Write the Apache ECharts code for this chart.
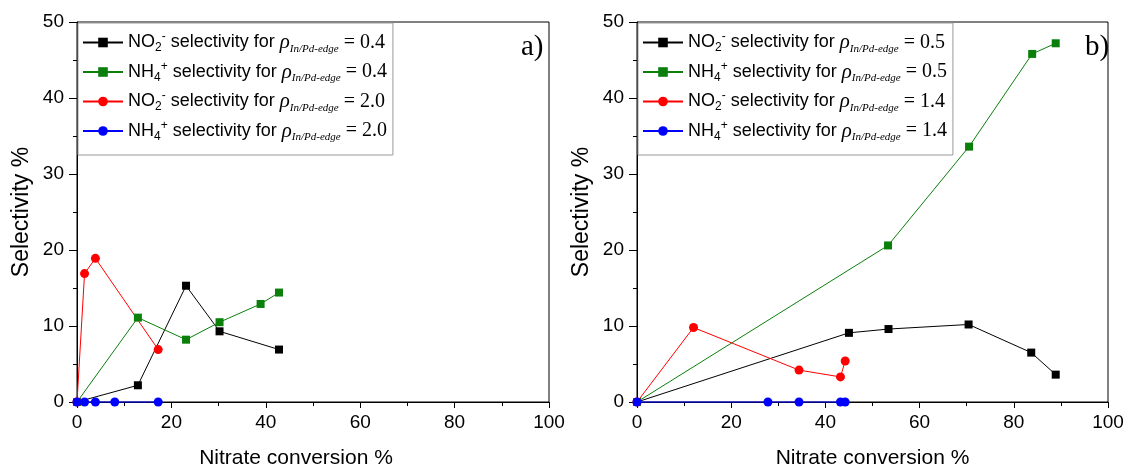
<!DOCTYPE html>
<html>
<head>
<meta charset="utf-8">
<script src="https://cdn.jsdelivr.net/npm/echarts@6/dist/echarts.min.js"></script>
<style>
html,body{margin:0;padding:0;background:#fff;}
#chart{width:1125px;height:468px;}
</style>
</head>
<body>
<div id="chart"></div>
<script>
// ---- Data (x = nitrate conversion %, y = selectivity %) ----
const aNO2low  = [[0,0],[12.9,2.2],[23.1,15.3],[30.2,9.3],[42.8,6.9]];
const aNH4low  = [[0,0],[12.9,11.1],[23.1,8.2],[30.2,10.5],[38.9,12.9],[42.8,14.4]];
const aNO2high = [[0,0],[1.6,16.9],[3.9,18.9],[17.2,6.9]];
const aNH4high = [[0,0],[1.6,0],[3.9,0],[8.0,0],[17.2,0]];

const bNO2low  = [[0,0],[45.0,9.1],[53.4,9.6],[70.4,10.2],[83.7,6.5],[88.9,3.6]];
const bNH4low  = [[0,0],[53.3,20.6],[70.5,33.6],[83.9,45.8],[88.9,47.2]];
const bNO2high = [[0,0],[12.0,9.8],[34.4,4.2],[43.2,3.3],[44.2,5.4]];
const bNH4high = [[0,0],[27.8,0],[34.4,0],[43.2,0],[44.2,0]];

const ratiosA = ['0.4','2.0'];
const ratiosB = ['0.5','1.4'];
const panelLabels = ['a)','b)'];
const xTitle = 'Nitrate conversion %';
const yTitle = 'Selectivity %';

// ---- Styling ----
const SANS = 'Liberation Sans, Arial, sans-serif';
const SERIF = 'Liberation Serif, Times New Roman, serif';
const colors = {NO2low:'#000000', NH4low:'#0a800a', NO2high:'#ff0000', NH4high:'#0000ff'};

function legendText(ion, ratio){
  const ionPart = ion === 'NO2'
    ? '{t|NO}{sub|2}{sup|-}'
    : '{t|NH}{sub|4}{sup|+}';
  return ionPart + '{t| selectivity for }{rho|ρ}{rsub|In/Pd-edge}{eq| = ' + ratio + '}';
}

function mkName(panel, ion, ratio){ return panel + ':' + ion + ':' + ratio; }

const seriesDefs = [
  {panel:'a', ion:'NO2', ratio:ratiosA[0], data:aNO2low,  color:colors.NO2low,  sym:'rect'},
  {panel:'a', ion:'NH4', ratio:ratiosA[0], data:aNH4low,  color:colors.NH4low,  sym:'rect'},
  {panel:'a', ion:'NO2', ratio:ratiosA[1], data:aNO2high, color:colors.NO2high, sym:'circle'},
  {panel:'a', ion:'NH4', ratio:ratiosA[1], data:aNH4high, color:colors.NH4high, sym:'circle'},
  {panel:'b', ion:'NO2', ratio:ratiosB[0], data:bNO2low,  color:colors.NO2low,  sym:'rect'},
  {panel:'b', ion:'NH4', ratio:ratiosB[0], data:bNH4low,  color:colors.NH4low,  sym:'rect'},
  {panel:'b', ion:'NO2', ratio:ratiosB[1], data:bNO2high, color:colors.NO2high, sym:'circle'},
  {panel:'b', ion:'NH4', ratio:ratiosB[1], data:bNH4high, color:colors.NH4high, sym:'circle'}
];

const nameMap = {};
const series = seriesDefs.map(d => {
  const name = mkName(d.panel, d.ion, d.ratio);
  nameMap[name] = legendText(d.ion, d.ratio);
  const idx = d.panel === 'a' ? 0 : 1;
  return {
    type:'line', name:name, xAxisIndex:idx, yAxisIndex:idx,
    data:d.data, symbol:d.sym, symbolSize: d.sym === 'rect' ? 8 : 9,
    lineStyle:{color:d.color, width:1},
    itemStyle:{color:d.color},
    showAllSymbol:true, animation:false, clip:false
  };
});

const grids = [
  {left:77, top:22, width:472, height:380},
  {left:637, top:22, width:471, height:380}
];

function xAxis(i){
  return {
    type:'value', gridIndex:i, min:0, max:100, interval:20,
    name:xTitle, nameLocation:'middle', nameGap:46,
    nameTextStyle:{fontFamily:SANS, fontSize:21, color:'#000',
      padding: i === 0 ? [0,34,0,0] : [0,0,0,0]},
    axisLine:{show:true, onZero:false, lineStyle:{color:'#000', width:1}},
    axisTick:{show:true, inside:false, length:6, lineStyle:{color:'#000'}},
    minorTick:{show:true, splitNumber:2, length:4, lineStyle:{color:'#000'}},
    axisLabel:{fontFamily:SANS, fontSize:19, color:'#000', margin:11},
    splitLine:{show:false}
  };
}
function yAxis(i){
  return {
    type:'value', gridIndex:i, min:0, max:50, interval:10,
    name:yTitle, nameLocation:'middle', nameGap:44, nameRotate:90,
    nameTextStyle:{fontFamily:SANS, fontSize:23, color:'#000'},
    axisLine:{show:true, onZero:false, lineStyle:{color:'#000', width:1}},
    axisTick:{show:true, inside:false, length:8, lineStyle:{color:'#000'}},
    minorTick:{show:true, splitNumber:2, length:4, lineStyle:{color:'#000'}},
    axisLabel:{fontFamily:SANS, fontSize:19, color:'#000', margin:13},
    splitLine:{show:false}
  };
}

const rich = {
  t:{fontFamily:SANS, fontSize:18, color:'#000', verticalAlign:'middle'},
  sub:{fontFamily:SANS, fontSize:12, color:'#000', verticalAlign:'middle', padding:[11,0,0,0]},
  sup:{fontFamily:SANS, fontSize:12, color:'#000', verticalAlign:'middle', padding:[0,0,11,0]},
  rho:{fontFamily:SERIF, fontStyle:'italic', fontSize:21, color:'#000', verticalAlign:'middle'},
  rsub:{fontFamily:SERIF, fontStyle:'italic', fontSize:11, color:'#000', verticalAlign:'middle', padding:[13,0,0,0]},
  eq:{fontFamily:SERIF, fontSize:20, color:'#000', verticalAlign:'middle'}
};

function legend(panel, left){
  return {
    orient:'vertical', left:left, top:23,
    data: seriesDefs.filter(d=>d.panel===panel).map(d=>mkName(d.panel,d.ion,d.ratio)),
    formatter: name => nameMap[name],
    itemWidth:40, itemHeight:12, itemGap:6,
    padding:[8,6,12,4],
    backgroundColor:'#fff', borderColor:'#999', borderWidth:1,
    textStyle:{rich:rich, fontSize:18},
    selectedMode:false
  };
}

const option = {
  backgroundColor:'#fff',
  animation:false,
  grid: grids.map(g => Object.assign({show:true, borderColor:'#000', borderWidth:1,
    backgroundColor:'transparent', containLabel:false, outerBoundsMode:'none'}, g)),
  xAxis:[xAxis(0), xAxis(1)],
  yAxis:[yAxis(0), yAxis(1)],
  legend:[legend('a', 78), legend('b', 638)],
  title:[
    {text:panelLabels[0], left:516, top:28, textStyle:{fontFamily:SERIF, fontSize:29, fontWeight:'normal', color:'#000'}},
    {text:panelLabels[1], left:1080, top:28, textStyle:{fontFamily:SERIF, fontSize:29, fontWeight:'normal', color:'#000'}}
  ],
  series:series
};

const chart = echarts.init(document.getElementById('chart'), null, {renderer:'canvas'});
chart.setOption(option);
</script>
</body>
</html>
